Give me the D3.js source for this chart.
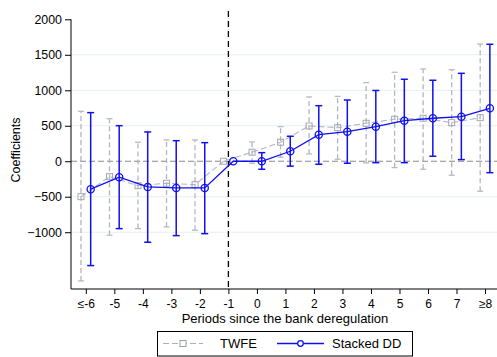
<!DOCTYPE html>
<html>
<head>
<meta charset="utf-8">
<script src="https://cdn.jsdelivr.net/npm/d3@7"></script>
<style>
  html, body { margin: 0; padding: 0; background: #fff; }
  svg { display: block; font-family: "Liberation Sans", Arial, Helvetica, sans-serif; }
</style>
</head>
<body>
<svg id="chart" width="497" height="357"></svg>
<script>
// Event-study periods and their axis labels
const periods = [-6, -5, -4, -3, -2, -1, 0, 1, 2, 3, 4, 5, 6, 7, 8];
const periodLabels = ["≤-6", "-5", "-4", "-3", "-2", "-1", "0", "1", "2", "3", "4", "5", "6", "7", "≥8"];

// TWFE estimates with 95% confidence bounds (period -1 is the reference)
const twfeCoef  = [-499, -217, -344, -310, -330, 0, 127, 268, 497, 473, 535, 592, 606, 544, 614];
const twfeLower = [-1686, -1042, -949, -925, -972, null, -28, 56, 103, 28, -24, -90, -113, -197, -423];
const twfeUpper = [704, 600, 268, 300, 300, null, 272, 487, 906, 915, 1107, 1254, 1300, 1290, 1652];

// Stacked difference-in-differences estimates with 95% confidence bounds
const stackCoef  = [-394, -225, -362, -376, -376, 0, 0, 141, 375, 417, 487, 572, 606, 628, 746];
const stackLower = [-1470, -949, -1141, -1048, -1020, null, -113, -69, -42, -28, -20, -20, 70, 23, -161];
const stackUpper = [685, 501, 413, 290, 262, null, 121, 352, 783, 863, 997, 1155, 1141, 1239, 1648];

// Y axis ticks
const yTicks = [-1000, -500, 0, 500, 1000, 1500, 2000];

(function draw() {
  const svg = d3.select("#chart");
  const plotLeft = 71, plotRight = 497, plotTop = 19.3, plotBottom = 289;

  const x = d3.scaleLinear().domain([-6.52, 8.42]).range([plotLeft, plotRight]);
  const y = d3.scaleLinear().domain([-1800, 2000]).range([plotBottom, plotTop]);

  const shift = 0.17; // horizontal dodge between the two estimators
  const blue = "#1010f0";
  const grey = "#a9b0ba";

  // Horizontal gridlines
  svg.append("g").selectAll("line")
    .data(yTicks.filter(t => t !== 0 && t !== 2000))
    .join("line")
    .attr("x1", plotLeft).attr("x2", plotRight)
    .attr("y1", d => y(d)).attr("y2", d => y(d))
    .attr("stroke", "#e6eef2").attr("stroke-width", 1);

  // Zero reference line
  svg.append("line")
    .attr("x1", plotLeft).attr("x2", plotRight)
    .attr("y1", y(0)).attr("y2", y(0))
    .attr("stroke", "#8a8a8a").attr("stroke-width", 1)
    .attr("stroke-dasharray", "6,3");

  // Treatment timing line at period -1
  svg.append("line")
    .attr("x1", x(-1)).attr("x2", x(-1))
    .attr("y1", 11).attr("y2", plotBottom)
    .attr("stroke", "#000").attr("stroke-width", 1.3)
    .attr("stroke-dasharray", "6,4");

  // Assemble rows for each series
  const twfe = periods.map((p, i) => ({ p: p - shift, c: twfeCoef[i], lo: twfeLower[i], hi: twfeUpper[i] }));
  const stack = periods.map((p, i) => ({ p: p + shift, c: stackCoef[i], lo: stackLower[i], hi: stackUpper[i] }));

  // ---- TWFE (grey, dashed) ----
  const gT = svg.append("g").attr("opacity", 0.9);
  const twfeBars = twfe.filter(d => d.lo !== null);
  gT.selectAll("line.bar").data(twfeBars).join("line")
    .attr("x1", d => x(d.p)).attr("x2", d => x(d.p))
    .attr("y1", d => y(d.lo)).attr("y2", d => y(d.hi))
    .attr("stroke", grey).attr("stroke-width", 1.3).attr("stroke-dasharray", "5,3");
  gT.selectAll("line.capHi").data(twfeBars).join("line")
    .attr("x1", d => x(d.p) - 3).attr("x2", d => x(d.p) + 3)
    .attr("y1", d => y(d.hi)).attr("y2", d => y(d.hi))
    .attr("stroke", grey).attr("stroke-width", 1.2);
  gT.selectAll("line.capLo").data(twfeBars).join("line")
    .attr("x1", d => x(d.p) - 3).attr("x2", d => x(d.p) + 3)
    .attr("y1", d => y(d.lo)).attr("y2", d => y(d.lo))
    .attr("stroke", grey).attr("stroke-width", 1.2);
  gT.append("path")
    .datum(twfe)
    .attr("d", d3.line().x(d => x(d.p)).y(d => y(d.c)))
    .attr("fill", "none").attr("stroke", grey).attr("stroke-width", 1.1)
    .attr("stroke-dasharray", "6,3");
  gT.selectAll("rect.pt").data(twfe).join("rect")
    .attr("x", d => x(d.p) - 3).attr("y", d => y(d.c) - 3)
    .attr("width", 6).attr("height", 6)
    .attr("fill", "none").attr("stroke", "#9aa0a8").attr("stroke-width", 1);

  // ---- Stacked DD (blue, solid) ----
  const gS = svg.append("g");
  const stackBars = stack.filter(d => d.lo !== null);
  gS.selectAll("line.bar").data(stackBars).join("line")
    .attr("x1", d => x(d.p)).attr("x2", d => x(d.p))
    .attr("y1", d => y(d.lo)).attr("y2", d => y(d.hi))
    .attr("stroke", blue).attr("stroke-width", 1.5);
  gS.selectAll("line.capHi").data(stackBars).join("line")
    .attr("x1", d => x(d.p) - 3.5).attr("x2", d => x(d.p) + 3.5)
    .attr("y1", d => y(d.hi)).attr("y2", d => y(d.hi))
    .attr("stroke", blue).attr("stroke-width", 1.5);
  gS.selectAll("line.capLo").data(stackBars).join("line")
    .attr("x1", d => x(d.p) - 3.5).attr("x2", d => x(d.p) + 3.5)
    .attr("y1", d => y(d.lo)).attr("y2", d => y(d.lo))
    .attr("stroke", blue).attr("stroke-width", 1.5);
  gS.append("path")
    .datum(stack)
    .attr("d", d3.line().x(d => x(d.p)).y(d => y(d.c)))
    .attr("fill", "none").attr("stroke", blue).attr("stroke-width", 1.3);
  gS.selectAll("circle.pt").data(stack).join("circle")
    .attr("cx", d => x(d.p)).attr("cy", d => y(d.c)).attr("r", 3.6)
    .attr("fill", "none").attr("stroke", blue).attr("stroke-width", 1.3);

  // ---- Axes ----
  const yAxis = d3.axisLeft(y).tickValues(yTicks).tickSize(6).tickPadding(3).tickFormat(d3.format("d"));
  const gy = svg.append("g").attr("transform", `translate(${plotLeft},0)`).call(yAxis);
  gy.select(".domain").attr("d", `M0,${plotTop}V${plotBottom}`).attr("stroke", "#000");
  gy.selectAll(".tick line").attr("stroke", "#000");
  gy.selectAll(".tick text").attr("font-size", 12.4).attr("fill", "#000")
    .attr("font-family", "'Liberation Sans', Arial, sans-serif");

  const xAxis = d3.axisBottom(x).tickValues(periods).tickSize(5).tickPadding(5)
    .tickFormat((d, i) => periodLabels[i]);
  const gx = svg.append("g").attr("transform", `translate(0,${plotBottom})`).call(xAxis);
  gx.select(".domain").attr("d", `M${plotLeft},0H${plotRight}`).attr("stroke", "#000");
  gx.selectAll(".tick line").attr("stroke", "#000");
  gx.selectAll(".tick text").attr("font-size", 12).attr("fill", "#000")
    .attr("font-family", "'Liberation Sans', Arial, sans-serif");

  // Axis titles
  svg.append("text")
    .attr("x", 285).attr("y", 322.5)
    .attr("text-anchor", "middle").attr("font-size", 13)
    .text("Periods since the bank deregulation");
  svg.append("text")
    .attr("transform", "translate(20,150) rotate(-90)")
    .attr("text-anchor", "middle").attr("font-size", 12.5)
    .text("Coefficients");

  // ---- Legend ----
  const lg = svg.append("g");
  lg.append("rect")
    .attr("x", 157.5).attr("y", 331.5).attr("width", 255).attr("height", 24.5)
    .attr("fill", "#fff").attr("stroke", "#000").attr("stroke-width", 1);
  const ly = 343.5;
  lg.append("line").attr("x1", 163).attr("x2", 203).attr("y1", ly).attr("y2", ly)
    .attr("stroke", grey).attr("stroke-width", 1.1).attr("stroke-dasharray", "6,3");
  lg.append("rect").attr("x", 180).attr("y", ly - 3).attr("width", 6).attr("height", 6)
    .attr("fill", "#fff").attr("stroke", "#9aa0a8").attr("stroke-width", 1);
  lg.append("text").attr("x", 220).attr("y", 348).attr("font-size", 13).text("TWFE");
  lg.append("line").attr("x1", 277).attr("x2", 324).attr("y1", ly).attr("y2", ly)
    .attr("stroke", blue).attr("stroke-width", 1.3);
  lg.append("circle").attr("cx", 300.5).attr("cy", ly).attr("r", 2.8)
    .attr("fill", "#fff").attr("stroke", blue).attr("stroke-width", 1.3);
  lg.append("text").attr("x", 332).attr("y", 348).attr("font-size", 13).text("Stacked DD");
})();
</script>
</body>
</html>
